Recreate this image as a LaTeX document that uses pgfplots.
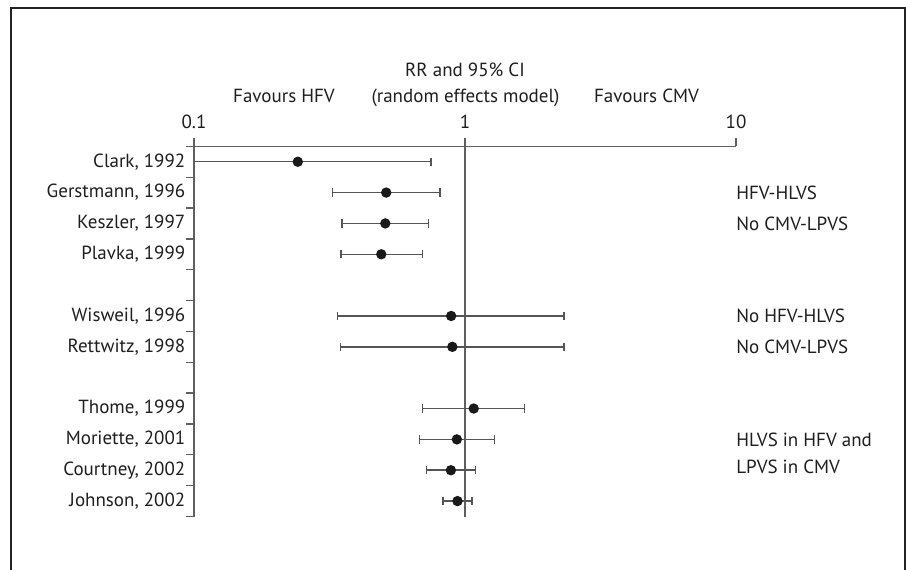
\documentclass[border=0pt]{standalone}
\usepackage{pgfplots}
\pgfplotsset{compat=1.18}
\usepackage{fontspec}
\setmainfont{PT Sans}
\newlength\px
\setlength\px{0.6pt}
\definecolor{framec}{RGB}{35,35,35}
\definecolor{axgray}{RGB}{95,95,95}
\definecolor{cigray}{RGB}{85,85,85}
\definecolor{txt}{RGB}{30,30,30}

\begin{document}
\fontsize{11.4}{13}\selectfont
\begin{tikzpicture}
\useasboundingbox (0,0) rectangle (906\px,-569\px);
\draw[framec, line width=1.6\px] (11\px,-572\px) -- (11\px,-8\px) -- (905\px,-8\px) -- (905\px,-572\px);

\begin{axis}[
    at={(194\px,-146.3\px)}, anchor=north west,
    scale only axis, width=542\px, height=370.2\px,
    clip=false,
    xmode=log, xmin=0.1, xmax=10,
    ymin=0.5, ymax=12.5,
    axis x line*=top, axis y line*=left,
    axis line style={-, draw=axgray, line width=1.3\px},
    tick align=outside,
    major tick length=8\px,
    tick style={draw=axgray, line width=1.3\px},
    xtick={0.1,1,10}, xticklabels={0.1,1,10},
    xminorticks=false,
    xticklabel style={yshift=3\px, text=txt},
    ytick={0.5,1.5,...,12.5}, yticklabels={},
    extra y ticks={1,2,3,4,6,7,9,10,11,12},
    extra y tick labels={{Johnson, 2002},{Courtney, 2002},{Moriette, 2001},{Thome, 1999},
        {Rettwitz, 1998},{Wisweil, 1996},{Plavka, 1999},{Keszler, 1997},{Gerstmann, 1996},{Clark, 1992}},
    extra y tick style={major tick length=0pt, yticklabel style={xshift=-2\px, text=txt}},
    every axis plot/.append style={line width=1.5\px},
]
% reference line at RR = 1
\addplot[axgray, line width=1.5\px] coordinates {(1,0.5) (1,12.5)};

% confidence intervals
\pgfplotsset{ci/.style={cigray, mark=|, mark size=4.2\px, mark options={line width=1.5\px}}}
\addplot[ci, mark indices={2}] coordinates {(0.1,12) (0.750,12)};
\addplot[ci] coordinates {(0.325,11) (0.809,11)};
\addplot[ci] coordinates {(0.352,10) (0.732,10)};
\addplot[ci] coordinates {(0.348,9) (0.696,9)};
\addplot[ci] coordinates {(0.339,7) (2.32,7)};
\addplot[ci] coordinates {(0.347,6) (2.32,6)};
\addplot[ci] coordinates {(0.697,4) (1.66,4)};
\addplot[ci] coordinates {(0.678,3) (1.285,3)};
\addplot[ci] coordinates {(0.721,2) (1.094,2)};
\addplot[ci] coordinates {(0.828,1) (1.061,1)};

% point estimates
\addplot[only marks, mark=*, mark size=4.4\px, black!90] coordinates {
    (0.2415,12) (0.512,11) (0.508,10) (0.491,9)
    (0.889,7) (0.898,6)
    (1.077,4) (0.933,3) (0.887,2) (0.938,1)
};

% group notes
\node[anchor=west, inner sep=0pt, text=txt] at (axis cs:10,11) {HFV-HLVS};
\node[anchor=west, inner sep=0pt, text=txt] at (axis cs:10,10) {No CMV-LPVS};
\node[anchor=west, inner sep=0pt, text=txt] at (axis cs:10,7) {No HFV-HLVS};
\node[anchor=west, inner sep=0pt, text=txt] at (axis cs:10,6) {No CMV-LPVS};
\node[anchor=west, inner sep=0pt, text=txt] at (axis cs:10,3) {HLVS in HFV and};
\node[anchor=west, inner sep=0pt, text=txt] at (axis cs:10,2.12) {LPVS in CMV};
\end{axis}

\node[anchor=base, inner sep=0pt, text=txt] at (465\px,-76.7\px) {RR and 95\% CI};
\node[anchor=base, inner sep=0pt, text=txt] at (465.5\px,-102.7\px) {(random effects model)};
\node[anchor=base, inner sep=0pt, text=txt] at (284\px,-102.7\px) {Favours HFV};
\node[anchor=base, inner sep=0pt, text=txt] at (646.5\px,-102.7\px) {Favours CMV};
\end{tikzpicture}
\end{document}
